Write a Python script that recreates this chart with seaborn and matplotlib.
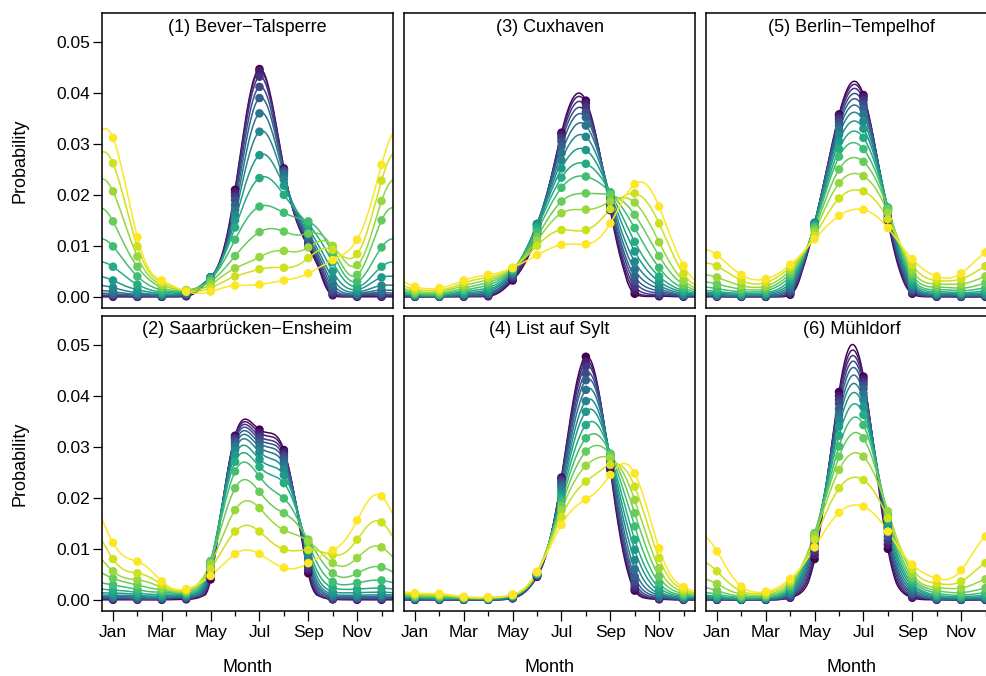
import numpy as np
import pandas as pd
import matplotlib
matplotlib.use("Agg")
import matplotlib.pyplot as plt
import seaborn as sns

# ---------------- data ----------------
months = ["Jan", "Feb", "Mar", "Apr", "May", "Jun", "Jul", "Aug", "Sep", "Oct", "Nov", "Dec"]
month_num = list(range(1, 13))
n_curves = 14
curve_labels = [f"c{i:02d}" for i in range(n_curves)]

titles = {
    "bever": "(1) Bever\u2212Talsperre",
    "saar": "(2) Saarbr\u00fccken\u2212Ensheim",
    "cux": "(3) Cuxhaven",
    "sylt": "(4) List auf Sylt",
    "berlin": "(5) Berlin\u2212Tempelhof",
    "muehl": "(6) M\u00fchldorf",
}

# each row = one month (Jan..Dec), 14 values = curves from dark (purple) to light (yellow)
bever = [
    [0.0000, 0.0001, 0.0002, 0.0003, 0.0006, 0.0010, 0.0018, 0.0032, 0.0059, 0.0099, 0.0148, 0.0207, 0.0262, 0.0312],
    [0.0000, 0.0000, 0.0001, 0.0002, 0.0003, 0.0005, 0.0008, 0.0014, 0.0024, 0.0040, 0.0059, 0.0079, 0.0099, 0.0117],
    [0.0000, 0.0000, 0.0001, 0.0001, 0.0002, 0.0003, 0.0004, 0.0006, 0.0009, 0.0013, 0.0018, 0.0023, 0.0028, 0.0032],
    [0.0001, 0.0002, 0.0003, 0.0004, 0.0005, 0.0006, 0.0008, 0.0009, 0.0011, 0.0012, 0.0013, 0.0013, 0.0012, 0.0010],
    [0.0038, 0.0038, 0.0038, 0.0038, 0.0038, 0.0038, 0.0038, 0.0037, 0.0036, 0.0034, 0.0030, 0.0024, 0.0017, 0.0010],
    [0.0210, 0.0205, 0.0198, 0.0190, 0.0180, 0.0170, 0.0160, 0.0150, 0.0136, 0.0112, 0.0080, 0.0056, 0.0040, 0.0022],
    [0.0447, 0.0443, 0.0432, 0.0412, 0.0390, 0.0360, 0.0324, 0.0278, 0.0233, 0.0177, 0.0127, 0.0078, 0.0054, 0.0024],
    [0.0252, 0.0250, 0.0248, 0.0246, 0.0243, 0.0238, 0.0230, 0.0218, 0.0200, 0.0165, 0.0128, 0.0090, 0.0057, 0.0032],
    [0.0098, 0.0102, 0.0106, 0.0110, 0.0115, 0.0120, 0.0126, 0.0134, 0.0142, 0.0148, 0.0124, 0.0097, 0.0076, 0.0046],
    [0.0003, 0.0005, 0.0008, 0.0012, 0.0018, 0.0026, 0.0036, 0.0050, 0.0068, 0.0085, 0.0095, 0.0100, 0.0092, 0.0072],
    [0.0000, 0.0001, 0.0002, 0.0003, 0.0004, 0.0006, 0.0009, 0.0014, 0.0020, 0.0030, 0.0043, 0.0062, 0.0084, 0.0112],
    [0.0000, 0.0001, 0.0003, 0.0005, 0.0008, 0.0013, 0.0022, 0.0038, 0.0059, 0.0097, 0.0150, 0.0188, 0.0228, 0.0259],
]

saar = [
    [0.0000, 0.0001, 0.0002, 0.0003, 0.0004, 0.0006, 0.0009, 0.0013, 0.0019, 0.0029, 0.0042, 0.0056, 0.0080, 0.0112],
    [0.0000, 0.0001, 0.0001, 0.0002, 0.0003, 0.0005, 0.0007, 0.0010, 0.0014, 0.0020, 0.0029, 0.0039, 0.0052, 0.0075],
    [0.0000, 0.0001, 0.0001, 0.0002, 0.0003, 0.0004, 0.0006, 0.0008, 0.0011, 0.0015, 0.0019, 0.0024, 0.0030, 0.0036],
    [0.0001, 0.0002, 0.0003, 0.0004, 0.0005, 0.0006, 0.0008, 0.0009, 0.0011, 0.0013, 0.0015, 0.0017, 0.0019, 0.0021],
    [0.0040, 0.0045, 0.0050, 0.0055, 0.0060, 0.0064, 0.0068, 0.0072, 0.0075, 0.0076, 0.0075, 0.0070, 0.0060, 0.0047],
    [0.0322, 0.0319, 0.0316, 0.0312, 0.0307, 0.0301, 0.0294, 0.0284, 0.0271, 0.0252, 0.0219, 0.0176, 0.0134, 0.0090],
    [0.0334, 0.0328, 0.0321, 0.0315, 0.0308, 0.0300, 0.0290, 0.0276, 0.0261, 0.0242, 0.0212, 0.0180, 0.0134, 0.0090],
    [0.0294, 0.0290, 0.0285, 0.0280, 0.0274, 0.0266, 0.0256, 0.0245, 0.0229, 0.0199, 0.0170, 0.0137, 0.0099, 0.0063],
    [0.0052, 0.0058, 0.0064, 0.0070, 0.0076, 0.0082, 0.0088, 0.0095, 0.0102, 0.0110, 0.0118, 0.0115, 0.0098, 0.0072],
    [0.0001, 0.0001, 0.0002, 0.0004, 0.0006, 0.0008, 0.0011, 0.0016, 0.0024, 0.0035, 0.0052, 0.0072, 0.0088, 0.0097],
    [0.0000, 0.0001, 0.0002, 0.0003, 0.0004, 0.0006, 0.0009, 0.0014, 0.0021, 0.0033, 0.0052, 0.0082, 0.0118, 0.0156],
    [0.0000, 0.0001, 0.0002, 0.0003, 0.0005, 0.0007, 0.0010, 0.0015, 0.0023, 0.0038, 0.0064, 0.0103, 0.0152, 0.0203],
]

cux = [
    [0.0000, 0.0000, 0.0001, 0.0001, 0.0002, 0.0002, 0.0002, 0.0003, 0.0004, 0.0006, 0.0008, 0.0011, 0.0015, 0.0020],
    [0.0000, 0.0000, 0.0001, 0.0001, 0.0001, 0.0001, 0.0002, 0.0003, 0.0004, 0.0005, 0.0007, 0.0010, 0.0013, 0.0017],
    [0.0000, 0.0001, 0.0001, 0.0002, 0.0003, 0.0004, 0.0005, 0.0007, 0.0010, 0.0013, 0.0017, 0.0022, 0.0027, 0.0032],
    [0.0001, 0.0002, 0.0003, 0.0005, 0.0006, 0.0008, 0.0011, 0.0014, 0.0018, 0.0023, 0.0028, 0.0033, 0.0038, 0.0043],
    [0.0032, 0.0035, 0.0038, 0.0041, 0.0044, 0.0046, 0.0048, 0.0050, 0.0052, 0.0054, 0.0055, 0.0056, 0.0057, 0.0057],
    [0.0125, 0.0130, 0.0135, 0.0140, 0.0143, 0.0143, 0.0142, 0.0140, 0.0135, 0.0128, 0.0118, 0.0110, 0.0100, 0.0082],
    [0.0322, 0.0318, 0.0312, 0.0305, 0.0295, 0.0282, 0.0268, 0.0252, 0.0234, 0.0214, 0.0187, 0.0164, 0.0131, 0.0102],
    [0.0385, 0.0380, 0.0372, 0.0362, 0.0352, 0.0336, 0.0314, 0.0288, 0.0261, 0.0236, 0.0203, 0.0171, 0.0131, 0.0103],
    [0.0170, 0.0175, 0.0180, 0.0185, 0.0190, 0.0195, 0.0198, 0.0202, 0.0205, 0.0205, 0.0200, 0.0187, 0.0172, 0.0144],
    [0.0006, 0.0012, 0.0020, 0.0030, 0.0040, 0.0053, 0.0069, 0.0089, 0.0108, 0.0135, 0.0161, 0.0185, 0.0203, 0.0221],
    [0.0001, 0.0002, 0.0004, 0.0007, 0.0011, 0.0016, 0.0022, 0.0030, 0.0040, 0.0057, 0.0080, 0.0107, 0.0144, 0.0177],
    [0.0000, 0.0001, 0.0001, 0.0002, 0.0003, 0.0004, 0.0006, 0.0009, 0.0012, 0.0017, 0.0024, 0.0032, 0.0045, 0.0061],
]

sylt = [
    [0.0000, 0.0000, 0.0001, 0.0001, 0.0002, 0.0002, 0.0003, 0.0004, 0.0005, 0.0006, 0.0007, 0.0009, 0.0011, 0.0013],
    [0.0000, 0.0000, 0.0001, 0.0001, 0.0001, 0.0002, 0.0002, 0.0003, 0.0004, 0.0005, 0.0007, 0.0008, 0.0010, 0.0012],
    [0.0000, 0.0000, 0.0000, 0.0001, 0.0001, 0.0001, 0.0002, 0.0002, 0.0003, 0.0003, 0.0004, 0.0005, 0.0005, 0.0006],
    [0.0000, 0.0000, 0.0000, 0.0001, 0.0001, 0.0001, 0.0001, 0.0002, 0.0002, 0.0003, 0.0003, 0.0004, 0.0004, 0.0005],
    [0.0003, 0.0003, 0.0004, 0.0004, 0.0005, 0.0006, 0.0006, 0.0007, 0.0008, 0.0008, 0.0009, 0.0009, 0.0010, 0.0010],
    [0.0045, 0.0046, 0.0047, 0.0048, 0.0049, 0.0050, 0.0050, 0.0051, 0.0052, 0.0052, 0.0053, 0.0054, 0.0054, 0.0055],
    [0.0240, 0.0238, 0.0234, 0.0230, 0.0225, 0.0220, 0.0214, 0.0207, 0.0200, 0.0193, 0.0185, 0.0176, 0.0163, 0.0147],
    [0.0477, 0.0467, 0.0458, 0.0444, 0.0431, 0.0412, 0.0390, 0.0369, 0.0343, 0.0317, 0.0291, 0.0263, 0.0232, 0.0197],
    [0.0255, 0.0260, 0.0265, 0.0270, 0.0274, 0.0278, 0.0281, 0.0284, 0.0286, 0.0287, 0.0285, 0.0278, 0.0265, 0.0245],
    [0.0018, 0.0022, 0.0028, 0.0036, 0.0046, 0.0060, 0.0078, 0.0098, 0.0118, 0.0144, 0.0170, 0.0196, 0.0222, 0.0248],
    [0.0001, 0.0002, 0.0003, 0.0004, 0.0006, 0.0009, 0.0012, 0.0017, 0.0024, 0.0033, 0.0046, 0.0062, 0.0082, 0.0101],
    [0.0000, 0.0000, 0.0001, 0.0001, 0.0002, 0.0003, 0.0004, 0.0005, 0.0007, 0.0009, 0.0012, 0.0016, 0.0020, 0.0025],
]

berlin = [
    [0.0000, 0.0001, 0.0001, 0.0002, 0.0002, 0.0003, 0.0005, 0.0007, 0.0010, 0.0016, 0.0025, 0.0038, 0.0060, 0.0082],
    [0.0000, 0.0000, 0.0001, 0.0001, 0.0002, 0.0002, 0.0003, 0.0005, 0.0007, 0.0010, 0.0015, 0.0022, 0.0032, 0.0043],
    [0.0000, 0.0000, 0.0001, 0.0001, 0.0002, 0.0003, 0.0004, 0.0006, 0.0008, 0.0012, 0.0016, 0.0021, 0.0028, 0.0035],
    [0.0004, 0.0006, 0.0008, 0.0011, 0.0014, 0.0018, 0.0023, 0.0028, 0.0034, 0.0040, 0.0046, 0.0052, 0.0058, 0.0063],
    [0.0140, 0.0142, 0.0144, 0.0145, 0.0145, 0.0145, 0.0144, 0.0142, 0.0140, 0.0137, 0.0133, 0.0128, 0.0120, 0.0113],
    [0.0358, 0.0354, 0.0349, 0.0343, 0.0336, 0.0328, 0.0318, 0.0305, 0.0290, 0.0275, 0.0250, 0.0223, 0.0193, 0.0159],
    [0.0396, 0.0392, 0.0386, 0.0378, 0.0369, 0.0358, 0.0345, 0.0330, 0.0312, 0.0290, 0.0265, 0.0237, 0.0207, 0.0171],
    [0.0150, 0.0155, 0.0160, 0.0165, 0.0168, 0.0171, 0.0173, 0.0175, 0.0175, 0.0175, 0.0172, 0.0165, 0.0152, 0.0135],
    [0.0006, 0.0008, 0.0010, 0.0012, 0.0015, 0.0018, 0.0022, 0.0026, 0.0031, 0.0037, 0.0044, 0.0052, 0.0062, 0.0074],
    [0.0000, 0.0001, 0.0001, 0.0002, 0.0003, 0.0004, 0.0005, 0.0007, 0.0010, 0.0014, 0.0019, 0.0025, 0.0032, 0.0040],
    [0.0000, 0.0000, 0.0001, 0.0001, 0.0002, 0.0003, 0.0004, 0.0006, 0.0008, 0.0012, 0.0017, 0.0025, 0.0035, 0.0046],
    [0.0000, 0.0001, 0.0001, 0.0002, 0.0003, 0.0004, 0.0005, 0.0008, 0.0012, 0.0018, 0.0027, 0.0040, 0.0060, 0.0087],
]

muehl = [
    [0.0000, 0.0000, 0.0001, 0.0001, 0.0002, 0.0002, 0.0003, 0.0005, 0.0007, 0.0011, 0.0018, 0.0031, 0.0056, 0.0095],
    [0.0000, 0.0000, 0.0000, 0.0001, 0.0001, 0.0001, 0.0002, 0.0002, 0.0003, 0.0005, 0.0007, 0.0011, 0.0017, 0.0026],
    [0.0000, 0.0000, 0.0000, 0.0001, 0.0001, 0.0002, 0.0002, 0.0003, 0.0004, 0.0006, 0.0008, 0.0010, 0.0013, 0.0016],
    [0.0004, 0.0005, 0.0006, 0.0008, 0.0010, 0.0012, 0.0015, 0.0018, 0.0021, 0.0025, 0.0029, 0.0033, 0.0037, 0.0041],
    [0.0080, 0.0088, 0.0095, 0.0102, 0.0108, 0.0114, 0.0119, 0.0123, 0.0127, 0.0130, 0.0131, 0.0126, 0.0118, 0.0103],
    [0.0408, 0.0400, 0.0393, 0.0385, 0.0375, 0.0363, 0.0353, 0.0340, 0.0322, 0.0301, 0.0281, 0.0255, 0.0219, 0.0171],
    [0.0438, 0.0433, 0.0427, 0.0421, 0.0414, 0.0405, 0.0392, 0.0379, 0.0363, 0.0343, 0.0317, 0.0281, 0.0235, 0.0183],
    [0.0100, 0.0108, 0.0116, 0.0124, 0.0131, 0.0138, 0.0145, 0.0152, 0.0158, 0.0164, 0.0170, 0.0174, 0.0160, 0.0134],
    [0.0004, 0.0006, 0.0008, 0.0011, 0.0014, 0.0018, 0.0022, 0.0027, 0.0032, 0.0038, 0.0044, 0.0051, 0.0060, 0.0069],
    [0.0000, 0.0001, 0.0001, 0.0002, 0.0002, 0.0003, 0.0005, 0.0007, 0.0009, 0.0013, 0.0018, 0.0024, 0.0032, 0.0042],
    [0.0000, 0.0000, 0.0000, 0.0001, 0.0001, 0.0002, 0.0003, 0.0004, 0.0006, 0.0009, 0.0014, 0.0023, 0.0036, 0.0058],
    [0.0000, 0.0000, 0.0001, 0.0001, 0.0002, 0.0003, 0.0004, 0.0006, 0.0009, 0.0014, 0.0023, 0.0040, 0.0072, 0.0124],
]

station_data = {"bever": bever, "saar": saar, "cux": cux, "sylt": sylt, "berlin": berlin, "muehl": muehl}
ytick_vals = [0.00, 0.01, 0.02, 0.03, 0.04, 0.05]
ytick_labels = ["0.00", "0.01", "0.02", "0.03", "0.04", "0.05"]

# ---------------- helpers ----------------
def _trig(vals, x):
    vals = np.asarray(vals, float)
    N = len(vals)
    c = np.fft.rfft(vals)
    t = np.asarray(x) - 1.0
    out = np.full(t.shape, c[0].real)
    for k in range(1, N // 2):
        ang = 2 * np.pi * k * t / N
        out += 2 * (c[k].real * np.cos(ang) - c[k].imag * np.sin(ang))
    out += c[N // 2].real * np.cos(np.pi * t)
    return out / N


def smooth_periodic(vals, x):
    """Smooth periodic curve through the monthly values; damped ringing near zero."""
    vals = np.asarray(vals, float)
    lin = np.clip(_trig(vals, x), 0, None)
    sq = _trig(np.sqrt(vals), x) ** 2
    w = np.clip(sq / 0.004, 0, 1)
    return w * lin + (1 - w) * sq

# ---------------- styling ----------------
sns.set_style("white")
plt.rcParams["font.family"] = ["Liberation Sans", "DejaVu Sans"]
for k in ["text.color", "axes.labelcolor", "xtick.color", "ytick.color", "axes.edgecolor"]:
    plt.rcParams[k] = "black"

colors = [matplotlib.colors.to_hex(c) for c in plt.cm.viridis(np.linspace(0, 1, n_curves))]
palette = dict(zip(curve_labels, colors))

W, H = 986, 676
fig = plt.figure(figsize=(W / 100, H / 100), dpi=100)

col_left = [102, 404, 706]
ax_w = 291
row_top = [13, 316]
ax_h = 295
layout = {"bever": (0, 0), "saar": (1, 0), "cux": (0, 1), "sylt": (1, 1), "berlin": (0, 2), "muehl": (1, 2)}

xdense = np.linspace(0.3, 12.7, 500)

for key, (r, c) in layout.items():
    data = np.array(station_data[key])  # months x curves
    left = col_left[c] / W
    bottom = 1 - (row_top[r] + ax_h) / H
    ax = fig.add_axes([left, bottom, ax_w / W, ax_h / H])

    pts_rows = []
    line_rows = []
    for j, lab in enumerate(curve_labels):
        vals = data[:, j]
        for m, v in zip(month_num, vals):
            pts_rows.append((lab, m, v))
        dense = smooth_periodic(vals, xdense)
        for xx, yy in zip(xdense, dense):
            line_rows.append((lab, xx, yy))
    pts = pd.DataFrame(pts_rows, columns=["curve", "month", "prob"])
    lines = pd.DataFrame(line_rows, columns=["curve", "x", "prob"])

    sns.lineplot(data=lines, x="x", y="prob", hue="curve", hue_order=curve_labels,
                 palette=palette, legend=False, ax=ax, linewidth=1.1, estimator=None)
    sns.scatterplot(data=pts, x="month", y="prob", hue="curve", hue_order=curve_labels,
                    palette=palette, legend=False, ax=ax, s=38, linewidth=0, zorder=3)

    ax.set_xlim(0.55, 12.47)
    ax.set_ylim(-0.0022, 0.0557)
    ax.set_xlabel("")
    ax.set_ylabel("")
    for sp in ax.spines.values():
        sp.set_visible(True)
        sp.set_color("black")
        sp.set_linewidth(1.1)

    ax.text(0.5, 1 - 14 / ax_h, titles[key], transform=ax.transAxes,
            ha="center", va="center", fontsize=13, color="black")

    if r == 1:
        ax.set_xticks([1, 3, 5, 7, 9, 11])
        ax.set_xticklabels([months[i] for i in [0, 2, 4, 6, 8, 10]], fontsize=12.5)
        ax.set_xticks([2, 4, 6, 8, 10, 12], minor=True)
        ax.tick_params(axis="x", which="major", length=7, width=0.9, direction="out",
                       color="black", labelcolor="black", pad=3, bottom=True)
        ax.tick_params(axis="x", which="minor", length=3.8, width=0.9, direction="out",
                       color="black", bottom=True)
    else:
        ax.set_xticks([])
    if c == 0:
        ax.set_yticks(ytick_vals)
        ax.set_yticklabels(ytick_labels, fontsize=12.5)
        ax.tick_params(axis="y", which="major", length=6.5, width=0.9, direction="out",
                       color="black", labelcolor="black", pad=2, left=True)
    else:
        ax.set_yticks([])

# shared labels
for r in range(2):
    yc = 1 - (row_top[r] + ax_h / 2) / H
    fig.text(20 / W, yc, "Probability", rotation=90, ha="center", va="center",
             fontsize=13, color="black")
for c in range(3):
    xc = (col_left[c] + ax_w / 2) / W
    fig.text(xc, 1 - 667 / H, "Month", ha="center", va="center", fontsize=13, color="black")

fig.savefig("out.png", dpi=100)
